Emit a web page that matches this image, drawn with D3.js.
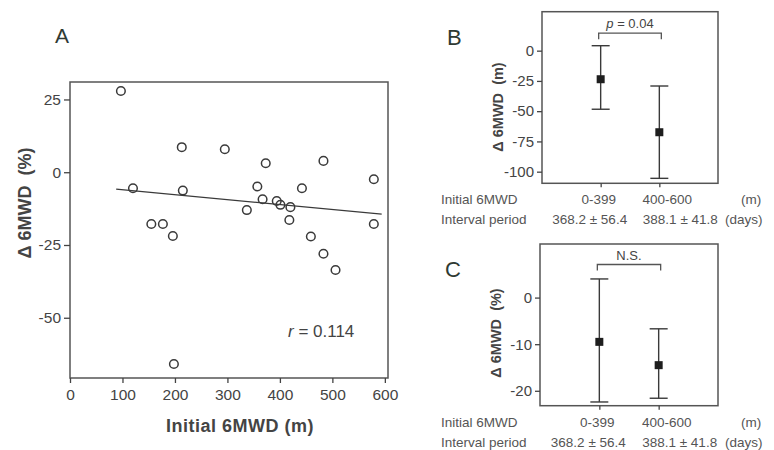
<!DOCTYPE html>
<html>
<head>
<meta charset="utf-8">
<script src="https://cdn.jsdelivr.net/npm/d3@7"></script>
<style>
  body { margin: 0; background: #fff; }
  svg { display: block; font-family: "Liberation Sans", Arial, sans-serif; }
  .tick text { fill: #444; }
  .tick line { stroke: #444; stroke-width: 1.3; }
</style>
</head>
<body>
<div id="chart"></div>
<script>
// panel A scatter values
var scatterX = [97, 120, 213, 215, 155, 177, 196, 198, 295, 337, 357, 367, 373, 394, 401, 420, 418, 442, 459, 483, 483, 506, 579, 579];
var scatterY = [27.9, -5.5, 8.6, -6.3, -17.8, -17.8, -21.9, -65.9, 7.9, -13, -4.9, -9.3, 3.1, -9.9, -11.2, -12, -16.4, -5.5, -22.1, 3.9, -28, -33.6, -2.4, -17.8];
var fitX = [88, 594];
var fitY = [-5.8, -14.4];
var aXTicks = [0, 100, 200, 300, 400, 500, 600];
var aYTicks = [25, 0, -25, -50];

// panels B and C
var groups = ["0-399", "400-600"];
var intervals = ["368.2 \u00b1 56.4", "388.1 \u00b1 41.8"];
var bMean = [-23.6, -67.4];
var bUpper = [4.1, -29.2];
var bLower = [-48.4, -105.5];
var bYTicks = [0, -25, -50, -75, -100];
var cMean = [-9.5, -14.5];
var cUpper = [4.0, -6.7];
var cLower = [-22.4, -21.6];
var cYTicks = [0, -10, -20];

var svg = d3.select("#chart").append("svg")
  .attr("width", 774)
  .attr("height", 450);

var ink = "#3a3a3a";
// plain hyphen for negatives, like the original figure
var plain = d => String(d);

// ---------- panel A ----------
var xA = d3.scaleLinear().domain([0, 606]).range([70, 388]);
var yA = d3.scaleLinear().domain([-70.7, 31]).range([378, 82]);

svg.append("text").attr("x", 55).attr("y", 43)
  .style("font-size", "21px").attr("fill", "#2f3a33").text("A");

svg.append("rect")
  .attr("x", 70).attr("y", 82).attr("width", 318).attr("height", 296)
  .attr("fill", "none").attr("stroke", "#555").attr("stroke-width", 1.5);

svg.append("g").attr("transform", "translate(0,378)")
  .call(d3.axisBottom(xA).tickValues(aXTicks).tickFormat(plain).tickSize(5).tickPadding(6))
  .call(g => g.select(".domain").remove())
  .selectAll("text").style("font-size", "15.5px");

svg.append("g").attr("transform", "translate(70,0)")
  .call(d3.axisLeft(yA).tickValues(aYTicks).tickFormat(plain).tickSize(6).tickPadding(3))
  .call(g => g.select(".domain").remove())
  .selectAll("text").style("font-size", "15.5px");

svg.append("line")
  .attr("x1", xA(fitX[0])).attr("y1", yA(fitY[0]))
  .attr("x2", xA(fitX[1])).attr("y2", yA(fitY[1]))
  .attr("stroke", ink).attr("stroke-width", 1.3);

svg.append("g").selectAll("circle")
  .data(scatterX)
  .enter()
  .append("circle")
  .attr("cx", (d, i) => xA(d))
  .attr("cy", (d, i) => yA(scatterY[i]))
  .attr("r", 4.3)
  .attr("fill", "none")
  .attr("stroke", ink)
  .attr("stroke-width", 1.5);

var rText = svg.append("text").attr("x", 288).attr("y", 337)
  .style("font-size", "17px").attr("fill", "#444");
rText.append("tspan").style("font-style", "italic").text("r");
rText.append("tspan").text(" = 0.114");

svg.append("text").attr("x", 240).attr("y", 432)
  .attr("text-anchor", "middle")
  .style("font-size", "18px").style("font-weight", "bold").style("letter-spacing", "0.5px")
  .attr("fill", "#444")
  .text("Initial 6MWD (m)");

svg.append("text")
  .attr("transform", "translate(31,203) rotate(-90)")
  .attr("text-anchor", "middle")
  .style("font-size", "18px").style("font-weight", "bold").attr("fill", "#444")
  .attr("xml:space", "preserve")
  .text("\u0394 6MWD  (%)");

// ---------- panels B and C ----------
function errorPanel(opts) {
  var x = d3.scaleLinear().domain([0, 3]).range([opts.left, opts.right]);
  var y = d3.scaleLinear().domain(opts.domain).range([opts.bottom, opts.top]);
  var g = svg.append("g");

  g.append("text").attr("x", opts.left - 95).attr("y", opts.top + 33)
    .style("font-size", "22px").attr("fill", "#2f3a33").text(opts.letter);

  g.append("rect")
    .attr("x", opts.left).attr("y", opts.top)
    .attr("width", opts.right - opts.left).attr("height", opts.bottom - opts.top)
    .attr("fill", "none").attr("stroke", "#555").attr("stroke-width", 1.5);

  g.append("g").attr("transform", `translate(${opts.left},0)`)
    .call(d3.axisLeft(y).tickValues(opts.ticks).tickFormat(plain).tickSize(5).tickPadding(3))
    .call(a => a.select(".domain").remove())
    .selectAll("text").style("font-size", "15px");

  g.append("g").attr("transform", `translate(0,${opts.bottom})`)
    .call(d3.axisBottom(x).tickValues([1, 2]).tickSize(4).tickFormat(""))
    .call(a => a.select(".domain").remove());

  var idx = [0, 1];
  // whiskers
  g.append("g").selectAll("line")
    .data(idx).enter().append("line")
    .attr("x1", i => x(i + 1)).attr("x2", i => x(i + 1))
    .attr("y1", i => y(opts.upper[i])).attr("y2", i => y(opts.lower[i]))
    .attr("stroke", ink).attr("stroke-width", 1.4);
  ["upper", "lower"].forEach(function(k) {
    g.append("g").selectAll("line")
      .data(idx).enter().append("line")
      .attr("x1", i => x(i + 1) - 9).attr("x2", i => x(i + 1) + 9)
      .attr("y1", i => y(opts[k][i])).attr("y2", i => y(opts[k][i]))
      .attr("stroke", ink).attr("stroke-width", 1.4);
  });
  g.append("g").selectAll("rect")
    .data(idx).enter().append("rect")
    .attr("x", i => x(i + 1) - 4).attr("y", i => y(opts.mean[i]) - 4)
    .attr("width", 8).attr("height", 8)
    .attr("fill", "#1e1e1e");

  // significance bracket
  var by = opts.top + opts.bracketY;
  g.append("path")
    .attr("d", `M${x(1) - 2},${by + 6}V${by}H${x(2) + 2}V${by + 6}`)
    .attr("fill", "none").attr("stroke", "#555").attr("stroke-width", 1.3);
  var st = g.append("text").attr("x", (x(1) + x(2)) / 2).attr("y", by - 5)
    .attr("text-anchor", "middle").style("font-size", "13px").attr("fill", "#444");
  if (opts.sigItalic) {
    st.append("tspan").style("font-style", "italic").text("p");
    st.append("tspan").text(" = 0.04");
  } else {
    st.text(opts.sig);
  }

  // y title
  g.append("text")
    .attr("transform", `translate(${opts.left - 39},${opts.titleY}) rotate(-90)`)
    .attr("text-anchor", "middle")
    .style("font-size", "14.5px").style("font-weight", "bold").attr("fill", "#444")
    .attr("xml:space", "preserve")
    .text(opts.title);

  // rows under the panel
  var r1 = opts.bottom + 21, r2 = opts.bottom + 41;
  var lab = g.append("g").style("font-size", "13.5px").attr("fill", "#555");
  lab.append("text").attr("x", 441).attr("y", r1).text("Initial 6MWD");
  lab.append("text").attr("x", 441).attr("y", r2).text("Interval period");
  lab.selectAll(".grp").data(groups).enter().append("text")
    .attr("x", (d, i) => x(i + 1) + (i === 0 ? -2 : 8)).attr("y", r1)
    .attr("text-anchor", "middle").text(d => d);
  lab.selectAll(".int").data(intervals).enter().append("text")
    .attr("x", (d, i) => x(i + 1) + (i === 0 ? -11 : 21)).attr("y", r2)
    .attr("text-anchor", "middle").text(d => d);
  lab.append("text").attr("x", 741).attr("y", r1).text("(m)");
  lab.append("text").attr("x", 725).attr("y", r2).text("(days)");
}

errorPanel({
  letter: "B", left: 542, right: 718, top: 11.7, bottom: 183.3,
  domain: [-109.6, 32.2], ticks: bYTicks,
  mean: bMean, upper: bUpper, lower: bLower,
  bracketY: 21.5, sigItalic: true,
  title: "\u0394 6MWD  (m)", titleY: 107
});

errorPanel({
  letter: "C", left: 540, right: 718, top: 244, bottom: 405.7,
  domain: [-23.2, 11.5], ticks: cYTicks,
  mean: cMean, upper: cUpper, lower: cLower,
  bracketY: 20.5, sigItalic: false, sig: "N.S.",
  title: "\u0394 6MWD  (%)", titleY: 333
});
</script>
</body>
</html>
